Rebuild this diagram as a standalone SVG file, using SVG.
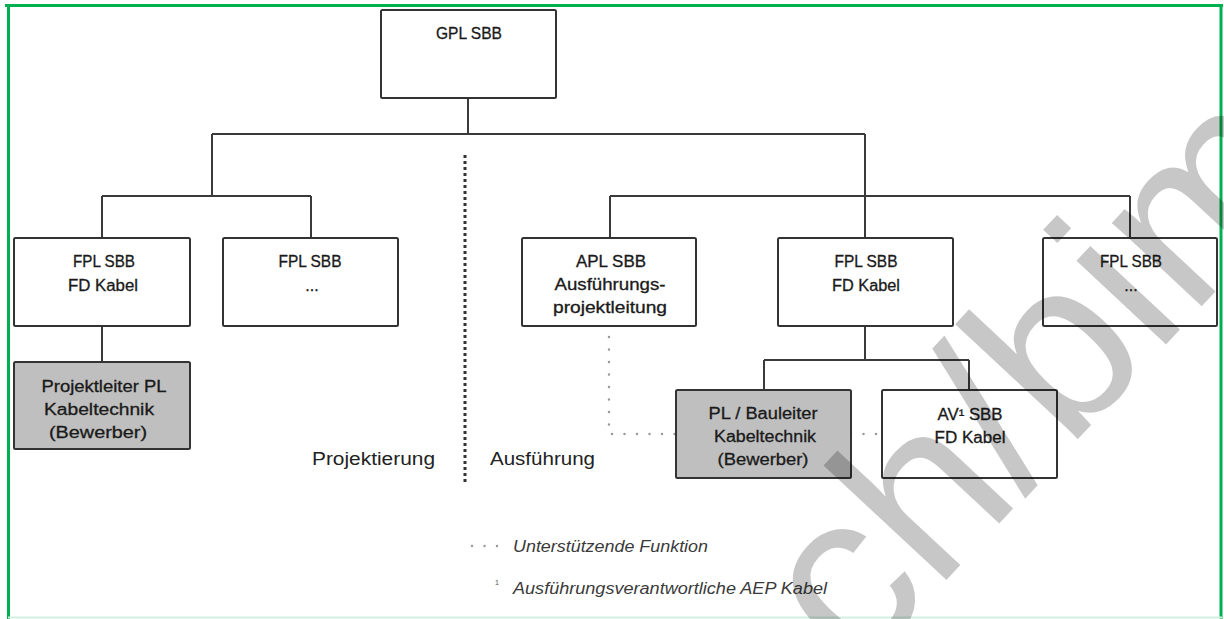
<svg xmlns="http://www.w3.org/2000/svg" width="1224" height="619" viewBox="0 0 1224 619">
<style>
.box{fill:#fff;stroke:#333;stroke-width:2}
.grey{fill:#bfbfbf;stroke:#333;stroke-width:2}
.t{font-family:"Liberation Sans",Arial,sans-serif;font-size:16px;fill:#1a1a1a;stroke:#1a1a1a;stroke-width:0.3;text-anchor:middle}
.lbl{font-family:"Liberation Sans",Arial,sans-serif;font-size:18px;fill:#222}
.leg{font-family:"Liberation Sans",Arial,sans-serif;font-size:16px;font-style:italic;fill:#3a3a3a}
.ln{fill:none;stroke:#3a3a3a;stroke-width:2}
.sup{fill:none;stroke:#9a9a9a;stroke-width:2.5;stroke-linecap:round;stroke-dasharray:0 12.5}
.sep{fill:none;stroke:#333;stroke-width:3;stroke-dasharray:3 3}
</style>
<rect width="1224" height="619" fill="#fff"/>
<g id="frame">
<line x1="5" y1="5.5" x2="1223" y2="5.5" stroke="#00b050" stroke-width="3"/>
<line x1="8.5" y1="4" x2="8.5" y2="619" stroke="#00b050" stroke-width="3"/>
<line x1="1221" y1="4" x2="1221" y2="619" stroke="#00b050" stroke-width="3"/>
<line x1="8" y1="617.5" x2="1222" y2="617.5" stroke="#d2f0df" stroke-width="2"/>
</g>
<g id="connectors">
<path class="ln" d="M468,98V134M212,134H865M212,134V196M102,196H311M102,196V238M311,196V238M865,134V238M610,196H1130M610,196V238M1130,196V238M102,326V362M865,326V360M764,360H969M764,360V390M969,360V390"/>
<path class="sup" d="M609,337V434H676"/>
<path class="sup" d="M851,434H882"/>
<path class="sep" d="M465,155V483"/>
</g>
<g id="gpl"><rect class="box" x="381" y="10" width="175" height="88" rx="1.5"/><text class="t" x="469" y="39" textLength="66" lengthAdjust="spacingAndGlyphs">GPL SBB</text></g>
<g id="fpl1"><rect class="box" x="14" y="238" width="176" height="88" rx="1.5"/><text class="t" x="104" y="267" textLength="62" lengthAdjust="spacingAndGlyphs">FPL SBB</text><text class="t" x="103" y="291" textLength="70" lengthAdjust="spacingAndGlyphs">FD Kabel</text></g>
<g id="fpl2"><rect class="box" x="223" y="238" width="175" height="88" rx="1.5"/><text class="t" x="310" y="267" textLength="63" lengthAdjust="spacingAndGlyphs">FPL SBB</text><text class="t" x="312" y="291">...</text></g>
<g id="pl1"><rect class="grey" x="14" y="362" width="176" height="87" rx="1.5"/><text class="t" x="104" y="392" textLength="125" lengthAdjust="spacingAndGlyphs">Projektleiter PL</text><text class="t" x="99" y="415" textLength="110" lengthAdjust="spacingAndGlyphs">Kabeltechnik</text><text class="t" x="98" y="438" textLength="98" lengthAdjust="spacingAndGlyphs">(Bewerber)</text></g>
<g id="apl"><rect class="box" x="522" y="238" width="174" height="88" rx="1.5"/><text class="t" x="611" y="267" textLength="70" lengthAdjust="spacingAndGlyphs">APL SBB</text><text class="t" x="610" y="290" textLength="111" lengthAdjust="spacingAndGlyphs">Ausführungs-</text><text class="t" x="610" y="313" textLength="114" lengthAdjust="spacingAndGlyphs">projektleitung</text></g>
<g id="fpl3"><rect class="box" x="778" y="238" width="175" height="88" rx="1.5"/><text class="t" x="866" y="267" textLength="63" lengthAdjust="spacingAndGlyphs">FPL SBB</text><text class="t" x="866" y="291" textLength="68" lengthAdjust="spacingAndGlyphs">FD Kabel</text></g>
<g id="fpl4"><rect class="box" x="1043" y="238" width="174" height="88" rx="1.5"/><text class="t" x="1131" y="267" textLength="62" lengthAdjust="spacingAndGlyphs">FPL SBB</text><text class="t" x="1131" y="291">...</text></g>
<g id="pl2"><rect class="grey" x="676" y="390" width="175" height="88" rx="1.5"/><text class="t" x="763" y="419" textLength="109" lengthAdjust="spacingAndGlyphs">PL / Bauleiter</text><text class="t" x="765" y="442" textLength="102" lengthAdjust="spacingAndGlyphs">Kabeltechnik</text><text class="t" x="763" y="465" textLength="91" lengthAdjust="spacingAndGlyphs">(Bewerber)</text></g>
<g id="av"><rect class="box" x="882" y="390" width="175" height="88" rx="1.5"/><text class="t" x="970" y="420" textLength="65" lengthAdjust="spacingAndGlyphs">AV¹ SBB</text><text class="t" x="970" y="443" textLength="71" lengthAdjust="spacingAndGlyphs">FD Kabel</text></g>
<g id="labels">
<text class="lbl" x="312" y="465" textLength="123" lengthAdjust="spacingAndGlyphs">Projektierung</text>
<text class="lbl" x="490" y="465" textLength="105" lengthAdjust="spacingAndGlyphs">Ausführung</text>
</g>
<g id="legend">
<path class="sup" d="M472,546H499" stroke-dasharray="0 13"/>
<text class="leg" x="513" y="552" textLength="195" lengthAdjust="spacingAndGlyphs">Unterstützende Funktion</text>
<text x="495" y="585" font-family="Liberation Sans,Arial,sans-serif" font-size="7" fill="#555">1</text>
<text class="leg" x="513" y="594" textLength="314" lengthAdjust="spacingAndGlyphs">Ausführungsverantwortliche AEP Kabel</text>
</g>
<g id="watermark">
<text transform="translate(953,573) rotate(-47)" x="-141.5" y="0" font-family="Liberation Sans,Arial,sans-serif" font-size="232" fill="#000" fill-opacity="0.22">ch/bim</text>
</g>
</svg>
